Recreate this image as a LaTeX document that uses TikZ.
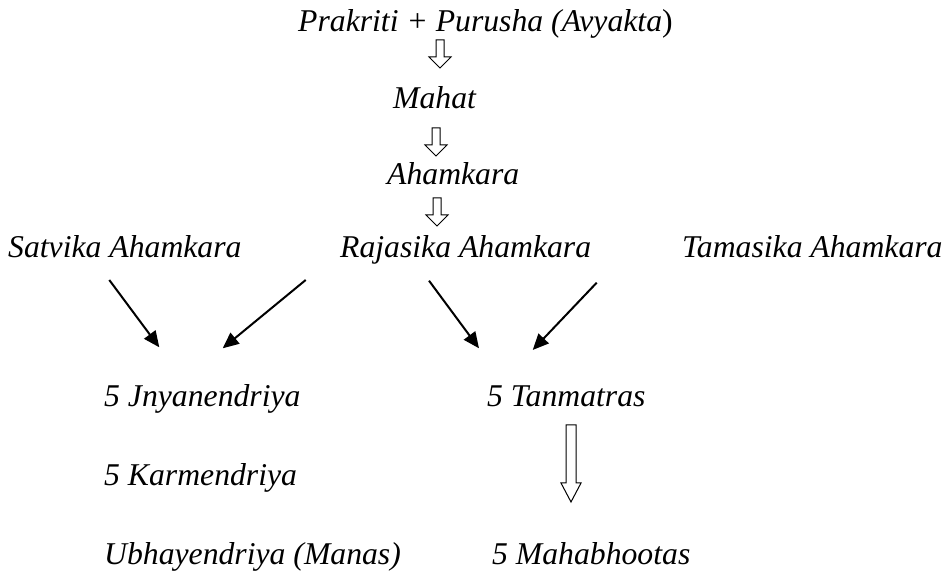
\documentclass[tikz,border=0pt]{standalone}
\usepackage{fontspec}
\setmainfont{Liberation Serif}
\usetikzlibrary{arrows.meta}
\tikzset{
  lbl/.style={anchor=base west, inner sep=0pt, font=\fontsize{31.7}{38}\selectfont\itshape},
  hollow/.style={draw=black, line width=1pt, fill=white, line join=miter},
  blackarrow/.style={line width=2pt, -{Triangle[length=16pt,width=14pt]}}
}
\begin{document}
\begin{tikzpicture}[x=1pt,y=1pt]
\useasboundingbox (0,0) rectangle (950,572);
% texts
\node[lbl] (pp) at (298,540) {Prakriti + Purusha (Avyakta\textup{)}};
\node[lbl] (mahat) at (393,463) {Mahat};
\node[lbl] (aham) at (387,387) {Ahamkara};
\node[lbl] (sat) at (8,314) {Satvika Ahamkara};
\node[lbl] (raj) at (340,314) {Rajasika Ahamkara};
\node[lbl] (tam) at (682,314) {Tamasika Ahamkara};
\node[lbl] (jny) at (104,165) {5 Jnyanendriya};
\node[lbl] (kar) at (104,86) {5 Karmendriya};
\node[lbl] (ubh) at (104,7) {Ubhayendriya (Manas)};
\node[lbl] (tan) at (487,165) {5 Tanmatras};
\node[lbl] (mah) at (492,7) {5 Mahabhootas};
% hollow arrows
\coordinate (h1) at (440,532);
\coordinate (h2) at (436,444);
\coordinate (h3) at (437,374);
\foreach \c in {h1,h2,h3}{
  \draw[hollow] (\c) ++(-4,0) -- ++(0,-17) -- ++(-7,0) -- ++(11,-11) -- ++(11,11) -- ++(-7,0) -- ++(0,17) -- cycle;
}
\coordinate (hb) at (571,147);
\draw[hollow] (hb) ++(-5,0) -- ++(0,-58) -- ++(-5,0) -- ++(10,-19) -- ++(10,19) -- ++(-5,0) -- ++(0,58) -- cycle;
% black arrows
\coordinate (s1) at (109.3,292);
\coordinate (e1) at (159.3,224.7);
\coordinate (s2) at (305.7,292);
\coordinate (e2) at (222.7,223.7);
\coordinate (s3) at (429,291.3);
\coordinate (e3) at (479,223.7);
\coordinate (s4) at (596.7,289.3);
\coordinate (e4) at (532.7,222);
\draw[blackarrow] (s1) -- (e1);
\draw[blackarrow] (s2) -- (e2);
\draw[blackarrow] (s3) -- (e3);
\draw[blackarrow] (s4) -- (e4);
\end{tikzpicture}
\end{document}
